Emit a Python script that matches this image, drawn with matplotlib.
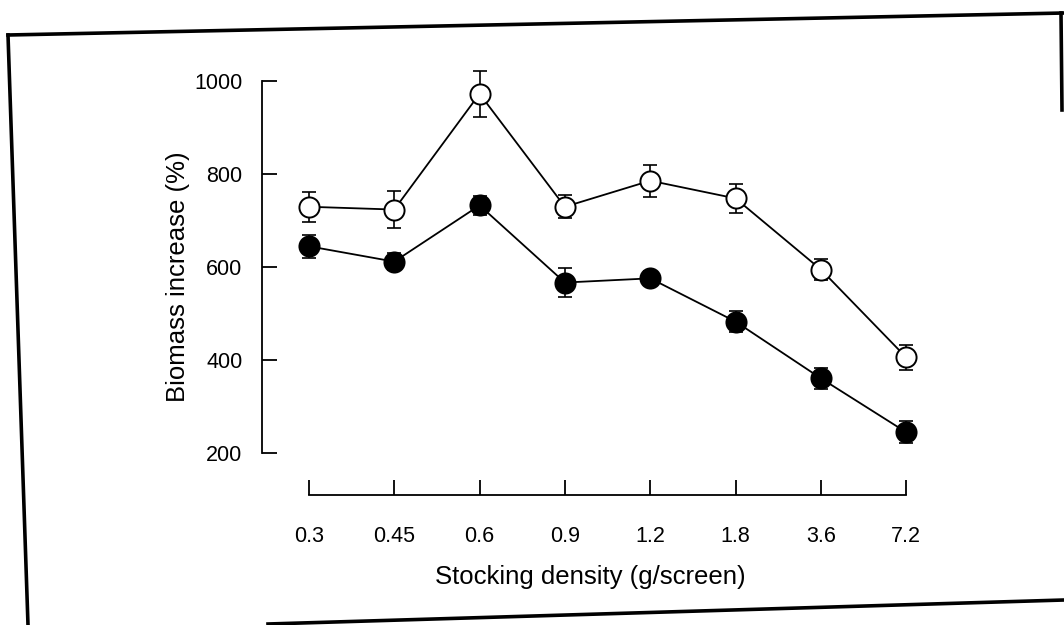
import matplotlib
matplotlib.use("Agg")
import matplotlib.pyplot as plt
from matplotlib.lines import Line2D

plt.rcParams['font.family'] = ['Liberation Sans', 'DejaVu Sans']

# ---- data ----
densities = ["0.3", "0.45", "0.6", "0.9", "1.2", "1.8", "3.6", "7.2"]
open_mean = [730, 724, 973, 730, 786, 748, 595, 406]
open_err = [32, 40, 50, 25, 34, 32, 22, 27]
filled_mean = [645, 612, 733, 567, 576, 483, 361, 245]
filled_err = [25, 19, 20, 32, 15, 22, 22, 24]
yticks = [200, 400, 600, 800, 1000]

W, H = 1064, 625
fig = plt.figure(figsize=(W / 100, H / 100), dpi=100)
ax = fig.add_axes([262 / W, 1 - 495 / H, (919 - 262) / W, (495 - 58) / H])

x = list(range(len(densities)))

for mean, err, face in [(open_mean, open_err, 'white'), (filled_mean, filled_err, 'black')]:
    ax.errorbar(x, mean, yerr=err, fmt='none', ecolor='black', elinewidth=1.2,
                capsize=4.7, capthick=1.2, zorder=2)
    ax.plot(x, mean, color='black', lw=1.3, zorder=2)
    ax.plot(x, mean, ls='none', marker='o', ms=14.5, mfc=face, mec='black',
            mew=1.4, zorder=3)

ax.set_xlim(-0.55, 7.15)
ax.set_ylim(110, 1050)

for s in ['top', 'right']:
    ax.spines[s].set_visible(False)
ax.spines['left'].set_bounds(200, 1000)
ax.spines['bottom'].set_bounds(0, 7)
for s in ['left', 'bottom']:
    ax.spines[s].set_linewidth(1.3)

ax.set_yticks(yticks)
ax.set_yticklabels([str(v) for v in yticks])
ax.set_xticks(x)
ax.set_xticklabels(densities)
ax.tick_params(axis='both', direction='in', length=11, width=1.3, labelsize=15.5)
ax.tick_params(axis='y', pad=14)
ax.tick_params(axis='x', pad=22)

ax.set_xlabel("Stocking density (g/screen)", fontsize=18.5, labelpad=13)
ax.set_ylabel("Biomass increase (%)", fontsize=18.5, labelpad=3)


def px(xp, yp):
    return xp / W, 1 - yp / H


frame = [
    [(8, 35), (1064, 13)],
    [(8, 35), (28, 625)],
    [(1061, 13), (1062, 110)],
    [(268, 624), (1064, 600)],
]
for (a, b) in frame:
    (x0, y0), (x1, y1) = px(*a), px(*b)
    fig.add_artist(Line2D([x0, x1], [y0, y1], transform=fig.transFigure,
                          color='black', lw=2.6))

fig.savefig("out.png", dpi=100)
